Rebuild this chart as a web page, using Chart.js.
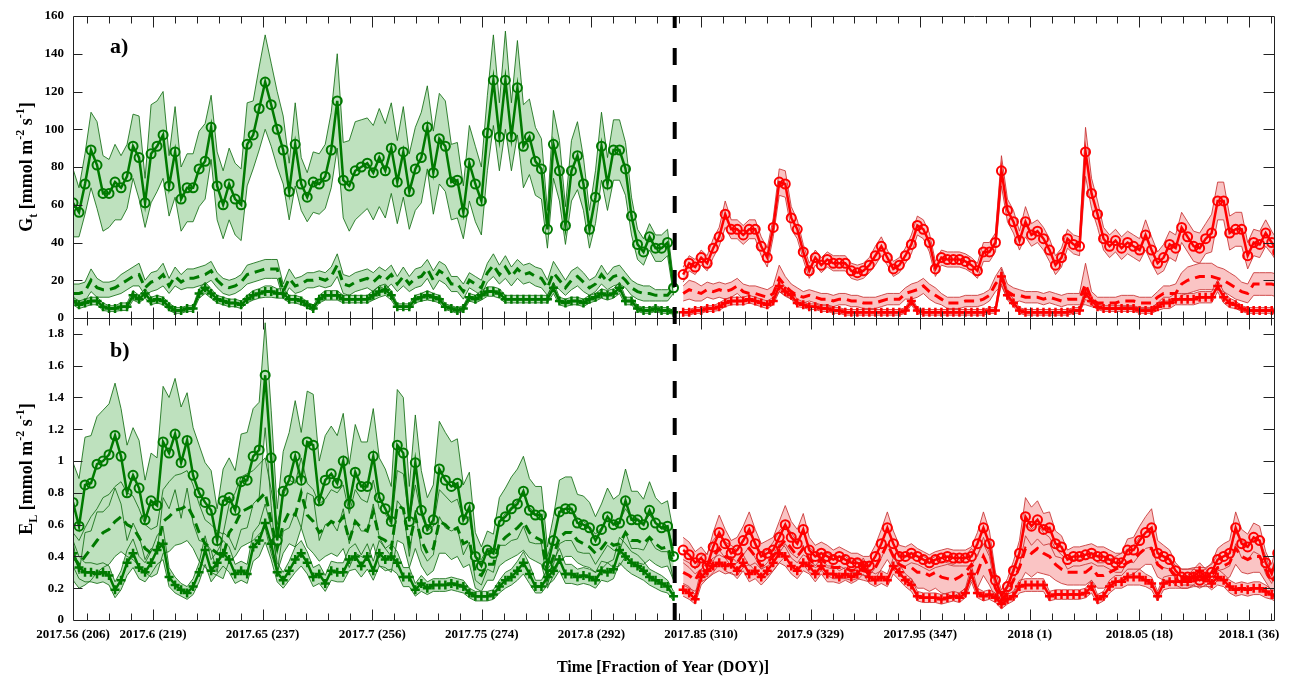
<!DOCTYPE html>
<html>
<head>
<meta charset="utf-8">
<script src="https://cdn.jsdelivr.net/npm/chart.js@4"></script>
<style>
  html, body { margin: 0; padding: 0; background: #fff; }
  #wrap { width: 1298px; height: 677px; }
</style>
</head>
<body>
<div id="wrap"><canvas id="gtChart" width="1298" height="677"></canvas></div>
<script>
// x axis (fraction of year), ticks and labels
const xMin = 2017.5635;
const xMax = 2018.1114;
const dividerX = 2017.838;
const xTickValues = [2017.5635, 2017.6, 2017.65, 2017.7, 2017.75, 2017.8, 2017.85, 2017.9, 2017.95, 2018, 2018.05, 2018.1];
const xTickLabels = ["2017.56 (206)", "2017.6 (219)", "2017.65 (237)", "2017.7 (256)", "2017.75 (274)", "2017.8 (292)",
  "2017.85 (310)", "2017.9 (329)", "2017.95 (347)", "2018 (1)", "2018.05 (18)", "2018.1 (36)"];
const yTopTicks = [0, 20, 40, 60, 80, 100, 120, 140, 160];
const yBotTicks = [0, 0.2, 0.4, 0.6, 0.8, 1, 1.2, 1.4, 1.6, 1.8];

// daily samples: green period starts at the left edge, red period starts 101.6 days later
const greenStartDay = 0;
const redStartDay = 101.6;

// ---- panel a) G_t, green period (101 days) ----
const gtGreenCirc = [61,56,71,89,81,66,66,72,69,75, 91,85,61,87,91,97,70,88,63,69,
  69,79,83,101,70,60,71,63,60,92, 97,111,125,113,100,89,67,92,71,64,
  72,71,75,89,115,73,70,78,80,82, 77,85,78,90,72,88,67,79,85,101,
  77,95,91,72,73,56,82,71,62,98, 126,96,126,96,122,91,96,83,79,47,
  92,78,49,78,86,71,47,64,91,71, 89,89,79,54,39,35,43,37,37,40, 16];
const gtGreenCircSd = [18,13,16,20,23,20,18,20,17,17, 17,22,13,26,24,23,16,24,17,18,
  18,20,20,17,18,18,19,19,19,22, 18,22,25,22,20,18,15,22,14,13,
  16,16,17,20,25,20,24,26,25,24, 25,26,25,24,22,24,20,22,24,22,
  22,24,24,20,20,14,20,20,18,20, 24,18,26,18,25,22,20,18,16,10,
  18,16,10,16,18,14,10,14,18,14, 16,16,14,10,8,7,7,7,7,7, 4];
const gtGreenDash = [13,13,14,20,16,15,15,16,18,20, 22,23,16,19,20,23,17,22,19,21,
  21,22,23,25,20,17,16,17,19,23, 24,25,26,26,26,14,21,17,18,20,
  20,21,20,22,28,18,17,19,20,21, 19,22,20,23,18,22,18,21,22,26,
  20,25,23,18,18,14,20,18,16,24, 28,23,27,22,26,23,24,22,21,16,
  24,20,16,20,22,19,16,18,23,19, 22,23,20,16,14,13,13,12,12,12, 16];
const gtGreenDashSd = [5,5,5,6,5,4,4,4,5,5, 5,6,4,5,5,6,4,5,4,5,
  5,5,5,5,4,4,4,4,4,5, 5,5,5,5,5,4,5,4,4,4,
  4,4,4,5,6,5,5,5,5,5, 5,5,5,5,4,5,4,5,5,5,
  5,5,5,4,4,4,4,4,4,5, 6,5,6,5,5,5,5,5,5,4,
  6,5,4,5,5,5,4,4,5,4, 5,5,4,4,4,4,4,3,3,3, 3];
const gtGreenPlus = [9,7,8,9,9,6,5,5,6,6, 12,10,13,9,10,9,6,4,4,5,
  5,13,16,13,10,9,8,8,7,10, 12,13,14,14,13,13,10,10,9,7,
  5,10,12,12,12,10,10,10,10,10, 12,14,15,12,6,6,6,10,11,12,
  11,10,6,5,4,5,11,10,12,14, 14,13,10,10,10,10,10,10,10,10,
  16,9,8,9,9,8,10,11,13,12, 13,16,9,9,5,4,4,5,4,4, 3];
const gtGreenPlusSd = [2,2,2,2,2,2,1.5,1.5,2,2, 2.5,2,2.5,2,2,2,2,1.5,1.5,1.5,
  1.5,2.5,3,2.5,2,2,2,2,2,2, 2.5,2.5,3,3,2.5,2.5,2,2,2,1.5,
  1.5,2,2.5,2.5,2.5,2,2,2,2,2, 2.5,3,3,2.5,1.5,1.5,1.5,2,2,2.5,
  2,2,1.5,1.5,1.5,1.5,2,2,2.5,2.5, 2.5,2.5,2,2,2,2,2,2,2,2,
  3,2,2,2,2,2,2,2,2.5,2.5, 2.5,3,2,2,1.5,1.5,1.5,1.5,1.5,1.5, 1];

// ---- panel a) G_t, red period (100 days) ----
const gtRedCirc = [23,29,27,32,29,37,43,55,47,47, 44,47,47,38,32,48,72,71,53,47,
  35,25,32,28,31,29,29,29,25,24, 25,28,33,38,32,26,28,33,39,49,
  47,40,26,32,31,31,31,30,28,25, 35,35,40,78,57,51,41,51,44,46,
  42,36,28,32,42,39,38,88,66,55, 42,38,41,37,40,38,36,44,36,29,
  32,39,37,48,43,38,37,42,45,62, 62,45,47,47,33,40,39,45,40,35];
const gtRedCircSd = [4,4,4,4,4,5,5,7,5,5, 5,5,5,5,5,5,7,7,6,5,
  4,4,4,4,4,4,4,4,4,4, 4,4,5,5,4,4,4,4,5,5,
  5,5,4,4,4,4,4,4,4,4, 5,5,5,8,6,6,5,8,6,6,
  6,6,5,5,5,5,5,13,8,7, 6,6,6,6,6,6,6,8,7,6,
  7,7,7,8,8,8,8,8,10,10, 10,9,9,9,7,7,7,7,6,6];
const gtRedDash = [13,15,14,13,15,14,15,14,15,17, 14,13,13,12,11,13,21,17,14,12,
  11,12,11,10,10,9,10,10,9,9, 8,8,8,9,10,10,10,13,14,15,
  17,14,12,10,8,8,8,9,9,9, 10,12,18,22,14,12,12,11,11,11,
  10,11,10,9,10,10,10,18,10,8, 8,8,8,9,9,9,8,8,8,11,
  13,13,13,18,20,21,22,22,22,21, 20,18,16,14,13,18,18,18,18,17];
const gtRedDashSd = [4,5,5,4,4,4,4,4,4,4, 4,4,4,4,4,4,7,5,4,4,
  3,3,3,3,3,3,3,3,3,3, 3,3,3,3,3,3,3,3,4,4,
  4,4,4,3,3,3,3,3,3,3, 3,3,4,5,4,4,3,3,3,3,
  3,3,3,3,3,3,3,11,4,3, 3,3,3,3,3,3,3,3,3,3,
  4,4,5,6,7,7,7,7,7,6, 6,6,6,5,5,6,6,6,6,6];
const gtRedPlus = [3,3,4,4,5,5,6,8,9,9, 9,10,9,8,7,9,17,14,12,8,
  7,6,6,5,5,4,4,3,3,3, 3,3,3,3,3,3,3,4,9,4,
  3,3,3,3,3,3,3,3,3,3, 3,4,4,22,12,8,4,3,3,3,
  3,3,3,3,3,4,4,13,9,6, 5,5,5,5,5,5,4,4,4,6,
  8,8,10,10,10,10,11,11,11,17, 11,8,7,5,4,4,4,4,4,3];
const gtRedPlusSd = [1.5,1.5,1.5,1.5,1.5,1.5,2,2,2,2, 2,2,2,2,2,2,3,2.5,2,2,
  1.5,1.5,1.5,1.5,1.5,1.5,1.5,1.5,1.5,1.5, 1.5,1.5,1.5,1.5,1.5,1.5,1.5,1.5,2,1.5,
  1.5,1.5,1.5,1.5,1.5,1.5,1.5,1.5,1.5,1.5, 1.5,1.5,1.5,4,2.5,2,1.5,1.5,1.5,1.5,
  1.5,1.5,1.5,1.5,1.5,1.5,1.5,3,2,1.5, 1.5,1.5,1.5,1.5,1.5,1.5,1.5,1.5,1.5,2,
  3,3,3,3,3,3,3,3,3,3, 3,2.5,2,1.5,1.5,1.5,1.5,1.5,1.5,1.5];

// ---- panel b) E_L, green period ----
const elGreenCirc = [0.74,0.59,0.85,0.86,0.98,1.00,1.04,1.16,1.03,0.80, 0.91,0.83,0.63,0.75,0.72,1.12,1.05,1.17,0.99,1.13,
  0.91,0.80,0.74,0.69,0.50,0.75,0.77,0.69,0.87,0.88, 1.03,1.07,1.54,1.02,0.50,0.81,0.88,1.03,0.88,1.12,
  1.10,0.75,0.88,0.92,0.86,1.00,0.73,0.93,0.84,0.84, 1.03,0.77,0.70,0.62,1.10,1.05,0.62,0.99,0.69,0.57,
  0.63,0.95,0.88,0.84,0.86,0.63,0.71,0.40,0.34,0.44, 0.42,0.62,0.65,0.70,0.73,0.81,0.69,0.66,0.66,0.34,
  0.50,0.68,0.70,0.70,0.61,0.60,0.58,0.50,0.57,0.65, 0.60,0.61,0.75,0.63,0.63,0.60,0.69,0.61,0.58,0.59, 0.40];
const elGreenCircSd = [0.25,0.3,0.3,0.3,0.3,0.32,0.32,0.33,0.3,0.3, 0.3,0.3,0.25,0.3,0.3,0.35,0.35,0.35,0.35,0.3,
  0.3,0.3,0.25,0.25,0.2,0.2,0.25,0.25,0.3,0.3, 0.3,0.3,0.33,0.3,0.2,0.25,0.3,0.35,0.3,0.32,
  0.32,0.25,0.28,0.3,0.3,0.3,0.25,0.3,0.28,0.28, 0.3,0.25,0.25,0.22,0.35,0.35,0.22,0.3,0.25,0.2,
  0.22,0.3,0.3,0.28,0.28,0.22,0.22,0.15,0.12,0.12, 0.12,0.15,0.18,0.2,0.22,0.22,0.2,0.18,0.18,0.12,
  0.15,0.2,0.2,0.2,0.18,0.18,0.16,0.15,0.16,0.18, 0.16,0.18,0.2,0.18,0.18,0.16,0.18,0.16,0.15,0.16, 0.15];
const elGreenDash = [0.40,0.35,0.40,0.45,0.50,0.55,0.57,0.62,0.65,0.60, 0.58,0.52,0.45,0.42,0.44,0.62,0.65,0.69,0.70,0.72,
  0.65,0.55,0.48,0.45,0.42,0.40,0.55,0.60,0.68,0.70, 0.72,0.76,0.80,0.62,0.45,0.60,0.68,0.66,0.80,0.66,
  0.62,0.55,0.58,0.62,0.60,0.65,0.50,0.62,0.58,0.56, 0.68,0.52,0.50,0.45,0.72,0.70,0.48,0.65,0.50,0.42,
  0.45,0.62,0.60,0.56,0.58,0.48,0.50,0.30,0.28,0.35, 0.35,0.48,0.52,0.55,0.58,0.62,0.55,0.52,0.50,0.30,
  0.40,0.52,0.55,0.55,0.50,0.48,0.46,0.42,0.45,0.50, 0.47,0.48,0.55,0.50,0.50,0.48,0.52,0.48,0.45,0.46, 0.35];
const elGreenDashSd = [0.15,0.15,0.18,0.2,0.2,0.22,0.22,0.22,0.22,0.2, 0.2,0.18,0.15,0.15,0.15,0.2,0.22,0.22,0.22,0.22,
  0.2,0.18,0.15,0.15,0.14,0.14,0.18,0.2,0.22,0.22, 0.22,0.22,0.22,0.2,0.15,0.18,0.2,0.2,0.22,0.2,
  0.2,0.18,0.18,0.2,0.2,0.2,0.17,0.2,0.18,0.18, 0.2,0.18,0.17,0.15,0.22,0.22,0.15,0.2,0.16,0.14,
  0.14,0.2,0.18,0.18,0.18,0.15,0.15,0.1,0.1,0.1, 0.1,0.14,0.15,0.16,0.17,0.18,0.16,0.15,0.15,0.1,
  0.12,0.15,0.15,0.15,0.14,0.14,0.13,0.12,0.13,0.14, 0.14,0.14,0.15,0.14,0.14,0.13,0.14,0.13,0.12,0.12, 0.1];
const elGreenPlus = [0.42,0.33,0.30,0.30,0.29,0.30,0.28,0.19,0.25,0.36, 0.42,0.33,0.30,0.36,0.44,0.48,0.27,0.22,0.19,0.17,
  0.21,0.30,0.44,0.31,0.36,0.42,0.38,0.29,0.31,0.29, 0.46,0.50,0.61,0.48,0.30,0.25,0.31,0.38,0.42,0.36,
  0.27,0.29,0.23,0.31,0.30,0.30,0.38,0.40,0.34,0.40, 0.31,0.42,0.38,0.40,0.36,0.27,0.27,0.19,0.23,0.20,
  0.22,0.22,0.22,0.23,0.22,0.21,0.17,0.15,0.15,0.15, 0.16,0.21,0.25,0.27,0.31,0.36,0.29,0.21,0.21,0.27,
  0.31,0.38,0.29,0.29,0.27,0.28,0.27,0.25,0.31,0.30, 0.32,0.44,0.40,0.36,0.34,0.31,0.27,0.25,0.23,0.21, 0.15];
const elGreenPlusSd = [0.08,0.07,0.06,0.06,0.06,0.06,0.06,0.05,0.06,0.08, 0.09,0.07,0.06,0.07,0.09,0.1,0.06,0.05,0.04,0.04,
  0.05,0.06,0.09,0.07,0.07,0.08,0.08,0.06,0.06,0.06, 0.09,0.1,0.12,0.1,0.06,0.05,0.06,0.08,0.08,0.07,
  0.06,0.06,0.05,0.06,0.06,0.06,0.07,0.08,0.07,0.08, 0.06,0.08,0.07,0.08,0.07,0.06,0.06,0.04,0.05,0.04,
  0.04,0.04,0.04,0.04,0.04,0.04,0.03,0.03,0.03,0.03, 0.03,0.04,0.05,0.05,0.06,0.07,0.06,0.04,0.04,0.05,
  0.06,0.07,0.06,0.06,0.05,0.05,0.05,0.05,0.06,0.06, 0.06,0.08,0.08,0.07,0.07,0.06,0.05,0.05,0.05,0.04, 0.03];

// ---- panel b) E_L, red period ----
const elRedCirc = [0.44,0.41,0.36,0.39,0.34,0.46,0.55,0.48,0.42,0.44, 0.50,0.57,0.48,0.40,0.42,0.44,0.52,0.60,0.52,0.48,
  0.57,0.44,0.40,0.42,0.40,0.38,0.40,0.38,0.36,0.36, 0.34,0.34,0.40,0.48,0.58,0.48,0.40,0.40,0.42,0.40,
  0.38,0.36,0.38,0.39,0.40,0.39,0.39,0.39,0.40,0.48, 0.58,0.48,0.25,0.15,0.21,0.31,0.42,0.65,0.59,0.63,
  0.57,0.58,0.48,0.46,0.38,0.40,0.40,0.41,0.42,0.40, 0.40,0.38,0.36,0.36,0.44,0.44,0.50,0.55,0.58,0.42,
  0.40,0.38,0.31,0.27,0.27,0.27,0.25,0.27,0.30,0.38, 0.40,0.42,0.58,0.48,0.46,0.52,0.50,0.36,0.29,0.42];
const elRedCircSd = [0.08,0.08,0.07,0.07,0.07,0.09,0.11,0.09,0.08,0.08, 0.09,0.11,0.09,0.08,0.08,0.08,0.1,0.12,0.1,0.09,
  0.1,0.08,0.07,0.07,0.07,0.06,0.06,0.06,0.06,0.06, 0.06,0.06,0.07,0.09,0.1,0.08,0.07,0.06,0.06,0.05,
  0.05,0.05,0.05,0.05,0.05,0.05,0.05,0.05,0.06,0.07, 0.1,0.08,0.05,0.04,0.05,0.06,0.08,0.12,0.12,0.12,
  0.1,0.1,0.08,0.07,0.06,0.06,0.06,0.06,0.06,0.06, 0.06,0.06,0.06,0.06,0.07,0.08,0.09,0.1,0.12,0.08,
  0.07,0.06,0.05,0.05,0.05,0.05,0.05,0.05,0.06,0.07, 0.08,0.08,0.1,0.09,0.08,0.09,0.09,0.07,0.06,0.08];
const elRedDash = [0.30,0.28,0.25,0.32,0.34,0.40,0.45,0.40,0.38,0.36, 0.42,0.45,0.40,0.34,0.36,0.40,0.46,0.50,0.45,0.40,
  0.45,0.38,0.35,0.38,0.35,0.33,0.33,0.33,0.31,0.32, 0.31,0.30,0.33,0.40,0.48,0.40,0.35,0.33,0.33,0.30,
  0.30,0.28,0.30,0.27,0.26,0.25,0.27,0.30,0.35,0.30, 0.40,0.32,0.20,0.13,0.17,0.25,0.33,0.45,0.42,0.45,
  0.42,0.40,0.35,0.32,0.30,0.30,0.30,0.30,0.33,0.28, 0.28,0.30,0.32,0.34,0.36,0.38,0.42,0.45,0.45,0.35,
  0.32,0.32,0.28,0.26,0.26,0.27,0.27,0.27,0.28,0.33, 0.34,0.36,0.45,0.40,0.38,0.40,0.40,0.32,0.24,0.30];
const elRedDashSd = [0.08,0.08,0.07,0.08,0.08,0.1,0.1,0.09,0.09,0.08, 0.09,0.1,0.09,0.08,0.08,0.09,0.1,0.1,0.1,0.09,
  0.1,0.08,0.07,0.07,0.07,0.07,0.07,0.07,0.06,0.06, 0.06,0.06,0.07,0.08,0.1,0.08,0.07,0.07,0.07,0.1,
  0.1,0.1,0.1,0.1,0.1,0.1,0.1,0.1,0.1,0.1, 0.12,0.1,0.06,0.04,0.05,0.08,0.1,0.15,0.15,0.15,
  0.13,0.12,0.1,0.09,0.08,0.08,0.08,0.08,0.08,0.08, 0.08,0.08,0.08,0.08,0.08,0.09,0.1,0.1,0.1,0.08,
  0.07,0.07,0.06,0.06,0.06,0.06,0.06,0.06,0.07,0.08, 0.09,0.09,0.1,0.1,0.09,0.1,0.1,0.08,0.06,0.07];
const elRedPlus = [0.19,0.17,0.13,0.27,0.31,0.34,0.36,0.34,0.35,0.31, 0.36,0.29,0.31,0.27,0.31,0.36,0.42,0.40,0.34,0.31,
  0.36,0.34,0.29,0.34,0.29,0.29,0.27,0.29,0.27,0.29, 0.34,0.27,0.25,0.27,0.25,0.34,0.30,0.25,0.22,0.15,
  0.14,0.14,0.14,0.13,0.14,0.15,0.14,0.17,0.29,0.17, 0.15,0.16,0.14,0.10,0.13,0.15,0.21,0.22,0.22,0.22,
  0.22,0.15,0.16,0.16,0.16,0.16,0.16,0.17,0.21,0.13, 0.15,0.21,0.24,0.24,0.27,0.27,0.27,0.25,0.23,0.15,
  0.23,0.24,0.24,0.24,0.24,0.27,0.31,0.27,0.23,0.27, 0.25,0.21,0.19,0.20,0.19,0.20,0.20,0.18,0.16,0.14];
const elRedPlusSd = [0.04,0.04,0.03,0.05,0.05,0.05,0.05,0.05,0.05,0.05, 0.05,0.05,0.05,0.05,0.05,0.05,0.06,0.06,0.05,0.05,
  0.05,0.05,0.05,0.05,0.05,0.05,0.04,0.04,0.04,0.04, 0.05,0.04,0.04,0.04,0.04,0.05,0.05,0.04,0.04,0.03,
  0.03,0.03,0.03,0.03,0.03,0.03,0.03,0.03,0.05,0.03, 0.03,0.03,0.03,0.03,0.03,0.03,0.04,0.04,0.04,0.04,
  0.04,0.03,0.03,0.03,0.03,0.03,0.03,0.03,0.04,0.03, 0.03,0.04,0.04,0.04,0.05,0.05,0.05,0.04,0.04,0.03,
  0.04,0.04,0.04,0.04,0.04,0.05,0.05,0.05,0.04,0.05, 0.04,0.04,0.04,0.04,0.04,0.04,0.04,0.04,0.03,0.03];

const GREEN = { line: "#007a00", fill: "rgb(190,225,190)", edge: "rgba(20,110,20,0.85)" };
const RED = { line: "#ff0000", fill: "rgb(250,196,196)", edge: "rgba(200,50,50,0.85)" };

function dayX(startDay, n) {
  const out = [];
  for (let i = 0; i < n; i++) out.push(xMin + (startDay + i) / 365);
  return out;
}
const greenX = dayX(greenStartDay, gtGreenCirc.length);
const redX = dayX(redStartDay, gtRedCirc.length);

function pts(xs, ys) { return ys.map((y, i) => ({ x: xs[i], y: y })); }
function edgePts(xs, mean, sd, sign) { return mean.map((m, i) => ({ x: xs[i], y: m + sign * sd[i] })); }

const fills = [];
const edges = [];
const lines = [];

function addSeries(axis, xs, mean, sd, col, kind) {
  const lo = edgePts(xs, mean, sd, -1);
  const hi = edgePts(xs, mean, sd, 1);
  // filled band (no border), drawn first
  fills.push({ data: lo, yAxisID: axis, borderWidth: 0, pointRadius: 0, fill: false, order: 3 });
  fills.push({ data: hi, yAxisID: axis, borderWidth: 0, pointRadius: 0, fill: "-1", backgroundColor: col.fill, order: 3 });
  // thin band edges on top of all fills
  edges.push({ data: lo, yAxisID: axis, borderColor: col.edge, borderWidth: 1, pointRadius: 0, fill: false, order: 2 });
  edges.push({ data: hi, yAxisID: axis, borderColor: col.edge, borderWidth: 1, pointRadius: 0, fill: false, order: 2 });

  const line = { data: pts(xs, mean), yAxisID: axis, borderColor: col.line, borderWidth: 2.5, fill: false, order: 1 };
  if (kind === "circle") {
    Object.assign(line, { pointStyle: "circle", pointRadius: 4.5, pointBorderWidth: 2, pointBorderColor: col.line, pointBackgroundColor: "rgba(0,0,0,0)" });
  } else if (kind === "cross") {
    Object.assign(line, { pointStyle: "cross", pointRadius: 4.5, pointBorderWidth: 2.5, pointBorderColor: col.line });
  } else {
    Object.assign(line, { pointRadius: 0, borderDash: [10, 6], borderWidth: 3 });
  }
  lines.push(line);
}

addSeries("yTop", greenX, gtGreenCirc, gtGreenCircSd, GREEN, "circle");
addSeries("yTop", greenX, gtGreenDash, gtGreenDashSd, GREEN, "dash");
addSeries("yTop", greenX, gtGreenPlus, gtGreenPlusSd, GREEN, "cross");
addSeries("yTop", redX, gtRedCirc, gtRedCircSd, RED, "circle");
addSeries("yTop", redX, gtRedDash, gtRedDashSd, RED, "dash");
addSeries("yTop", redX, gtRedPlus, gtRedPlusSd, RED, "cross");
addSeries("yBot", greenX, elGreenCirc, elGreenCircSd, GREEN, "circle");
addSeries("yBot", greenX, elGreenDash, elGreenDashSd, GREEN, "dash");
addSeries("yBot", greenX, elGreenPlus, elGreenPlusSd, GREEN, "cross");
addSeries("yBot", redX, elRedCirc, elRedCircSd, RED, "circle");
addSeries("yBot", redX, elRedDash, elRedDashSd, RED, "dash");
addSeries("yBot", redX, elRedPlus, elRedPlusSd, RED, "cross");

const SERIF = "'Liberation Serif', 'Times New Roman', serif";
const tickFont = { family: SERIF, weight: "bold", size: 13 };

// rotated axis title with sub/superscripts
function drawRich(ctx, parts, cx, cy) {
  const big = "bold 18px " + SERIF, small = "bold 12px " + SERIF;
  let w = 0;
  for (const p of parts) { ctx.font = p.s ? small : big; w += ctx.measureText(p.t).width; }
  ctx.save();
  ctx.translate(cx, cy);
  ctx.rotate(-Math.PI / 2);
  ctx.textBaseline = "alphabetic";
  ctx.textAlign = "left";
  let x = -w / 2;
  for (const p of parts) {
    ctx.font = p.s ? small : big;
    const dy = p.s === "sub" ? 5 : p.s === "sup" ? -8 : 0;
    ctx.fillText(p.t, x, dy);
    x += ctx.measureText(p.t).width;
  }
  ctx.restore();
}

const framePlugin = {
  id: "frame",
  afterDraw(chart) {
    const { ctx, chartArea: ca, scales } = chart;
    const xs = scales.x;
    ctx.save();
    ctx.fillStyle = "#000";
    ctx.strokeStyle = "#222";
    ctx.lineWidth = 1;
    for (const ys of [scales.yTop, scales.yBot]) {
      const top = Math.round(ys.top) + 0.5, bot = Math.round(ys.bottom) + 0.5;
      const l = Math.round(ca.left) + 0.5, r = Math.round(ca.right) + 0.5;
      ctx.beginPath();
      ctx.rect(l, top, r - l, bot - top);
      // x ticks every 0.01, longer every 0.05
      for (let k = 57; k <= 211; k++) {
        const v = 2017 + k / 100;
        if (v <= xMin || v >= xMax) continue;
        const px = Math.round(xs.getPixelForValue(v)) + 0.5;
        const len = k % 5 === 0 ? 11 : 7;
        ctx.moveTo(px, top); ctx.lineTo(px, top + len);
        ctx.moveTo(px, bot); ctx.lineTo(px, bot - len);
      }
      for (const t of ys.ticks) {
        const py = Math.round(ys.getPixelForValue(t.value)) + 0.5;
        if (py <= top + 1 || py >= bot - 1) continue;
        ctx.moveTo(l, py); ctx.lineTo(l + 9, py);
        ctx.moveTo(r, py); ctx.lineTo(r - 11, py);
      }
      ctx.stroke();
    }
    // dashed divider between the two periods
    const dx = xs.getPixelForValue(dividerX);
    ctx.beginPath();
    ctx.setLineDash([17, 20]);
    ctx.lineDashOffset = 5;
    ctx.lineWidth = 4;
    ctx.strokeStyle = "#000";
    ctx.moveTo(dx, ca.top);
    ctx.lineTo(dx, ca.bottom + 2);
    ctx.stroke();
    ctx.setLineDash([]);

    // panel letters
    ctx.font = "bold 22px " + SERIF;
    ctx.textAlign = "left";
    ctx.textBaseline = "alphabetic";
    ctx.fillText("a)", 110, 53);
    ctx.fillText("b)", 110, 357);

    // x title
    ctx.font = "bold 16px " + SERIF;
    ctx.textAlign = "center";
    ctx.fillText("Time [Fraction of Year (DOY)]", 663, 672);

    // y titles
    const yt = scales.yTop, yb = scales.yBot;
    drawRich(ctx, [{ t: "G" }, { t: "t", s: "sub" }, { t: " [mmol m" }, { t: "-2", s: "sup" }, { t: " s" }, { t: "-1", s: "sup" }, { t: "]" }],
      32, (yt.top + yt.bottom) / 2);
    drawRich(ctx, [{ t: "E" }, { t: "L", s: "sub" }, { t: " [mmol m" }, { t: "-2", s: "sup" }, { t: " s" }, { t: "-1", s: "sup" }, { t: "]" }],
      32, (yb.top + yb.bottom) / 2);
    ctx.restore();
  }
};

function fixedWidth(w) { return (s) => { s.width = w; s.paddingTop = 0; s.paddingBottom = 0; }; }

const ctx = document.getElementById("gtChart").getContext("2d");
const gtChart = new Chart(ctx, {
  type: "line",
  data: { datasets: [...fills, ...edges, ...lines] },
  options: {
    responsive: false,
    animation: false,
    events: [],
    layout: { padding: { left: 0, right: 24, top: 16, bottom: 0 } },
    elements: { line: { tension: 0 }, point: { hitRadius: 0 } },
    plugins: { legend: { display: false }, tooltip: { enabled: false }, title: { display: false } },
    scales: {
      x: {
        type: "linear", min: xMin, max: xMax,
        grid: { display: false, drawTicks: false }, border: { display: false },
        afterBuildTicks: (s) => { s.ticks = xTickValues.map((v) => ({ value: v })); },
        ticks: { autoSkip: false, maxRotation: 0, padding: 7, font: tickFont, color: "#000",
          callback: (v, i) => xTickLabels[i] },
        afterFit: (s) => { s.height = 57; s.paddingLeft = 0; s.paddingRight = 0; }
      },
      // the stack places the first listed axis at the bottom
      yBot: {
        type: "linear", position: "left", stack: "panels", stackWeight: 1, min: 0, max: 1.9,
        grid: { display: false, drawTicks: false }, border: { display: false },
        afterBuildTicks: (s) => { s.ticks = yBotTicks.map((v) => ({ value: v })); },
        ticks: { autoSkip: false, padding: 9, font: tickFont, color: "#000", callback: (v) => String(Number(v.toFixed(1))) },
        afterFit: fixedWidth(73)
      },
      yTop: {
        type: "linear", position: "left", stack: "panels", stackWeight: 1, min: 0, max: 160,
        grid: { display: false, drawTicks: false }, border: { display: false },
        afterBuildTicks: (s) => { s.ticks = yTopTicks.map((v) => ({ value: v })); },
        ticks: { autoSkip: false, padding: 9, font: tickFont, color: "#000", callback: (v) => String(v) },
        afterFit: fixedWidth(73)
      }
    }
  },
  plugins: [framePlugin]
});
</script>
</body>
</html>
